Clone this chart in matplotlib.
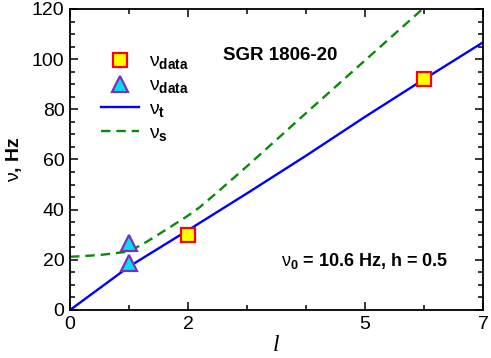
import numpy as np
import matplotlib
matplotlib.use("Agg")
import matplotlib.pyplot as plt
from matplotlib.ticker import MultipleLocator, FixedLocator

plt.rcParams['font.family'] = ['Liberation Sans', 'DejaVu Sans']
plt.rcParams['mathtext.fontset'] = 'custom'
plt.rcParams['mathtext.rm'] = 'Liberation Sans'
plt.rcParams['mathtext.it'] = 'Liberation Sans'
plt.rcParams['mathtext.bf'] = 'Liberation Sans:bold'

# torsional curve nu_t
l_t = [0, 1, 2, 3, 4, 5, 6, 7]
nu_t = [0, 17.3, 31.8, 46.5, 61.5, 77.0, 92.0, 106.7]

# second curve nu_s
l_s = [0, 0.5, 1, 1.3, 1.6, 2, 2.2, 2.5, 3, 4, 5, 6, 6.1]
nu_s = [21.2, 21.9, 23.3, 27.2, 31.6, 37.6, 41.0, 47.0, 57.3, 78.5, 99.5, 120.5, 122.5]

# observed QPO frequencies
l_sq = [2, 6]
nu_sq = [30.0, 92.2]
l_tri = [1, 1]
nu_tri = [18.8, 26.8]

fig = plt.figure(figsize=(4.91, 3.58), dpi=100)
ax = fig.add_axes([0.1426, 0.1341, 0.8411, 0.8408])

ax.plot(l_sq, nu_sq, linestyle='none', marker='s', ms=9.5, mfc='#ffff00',
        mec='#ff0000', mew=1.6, zorder=5, label=r'$\nu_{\mathbf{data}}$')
ax.plot(l_tri, nu_tri, linestyle='none', marker='^', ms=12, mfc='#00e0f0',
        mec='#7a30c0', mew=1.6, zorder=5, label=r'$\nu_{\mathbf{data}}$')
ax.plot(l_t, nu_t, color='#0000ff', lw=1.7, label=r'$\nu_{\mathbf{t}}$')
ax.plot(l_s, nu_s, color='#0a8a0a', lw=1.7, dashes=(4, 2.5), label=r'$\nu_{\mathbf{s}}$')

ax.set_xlim(0, 7)
ax.set_ylim(0, 120)
ax.xaxis.set_major_locator(FixedLocator([0, 2, 5, 7]))
ax.xaxis.set_minor_locator(FixedLocator([1, 3, 4, 6]))
ax.yaxis.set_major_locator(MultipleLocator(20))
ax.yaxis.set_minor_locator(MultipleLocator(5))
ax.tick_params(which='both', direction='in', top=True, right=True, labelsize=14, width=1.1)
ax.tick_params(which='major', length=6, pad=4)
ax.tick_params(which='minor', length=3.5)
for s in ax.spines.values():
    s.set_linewidth(1.3)

ax.set_xlabel('l', fontfamily='Liberation Serif', fontstyle='italic', fontsize=17, labelpad=2)
ax.set_ylabel(r'$\nu$, Hz', fontsize=14, fontweight='bold', labelpad=6)

ax.text(0.37, 0.83, 'SGR 1806-20', transform=ax.transAxes, fontsize=13.5, fontweight='bold')
ax.text(0.51, 0.145, r'$\nu_{\mathbf{0}}$ = 10.6 Hz, h = 0.5', transform=ax.transAxes,
        fontsize=13, fontweight='bold')

ax.legend(loc='upper left', bbox_to_anchor=(0.055, 0.88), frameon=False, fontsize=14,
          handlelength=2.0, handletextpad=0.5, labelspacing=0.27, borderaxespad=0)

fig.savefig('out.png', dpi=100)
